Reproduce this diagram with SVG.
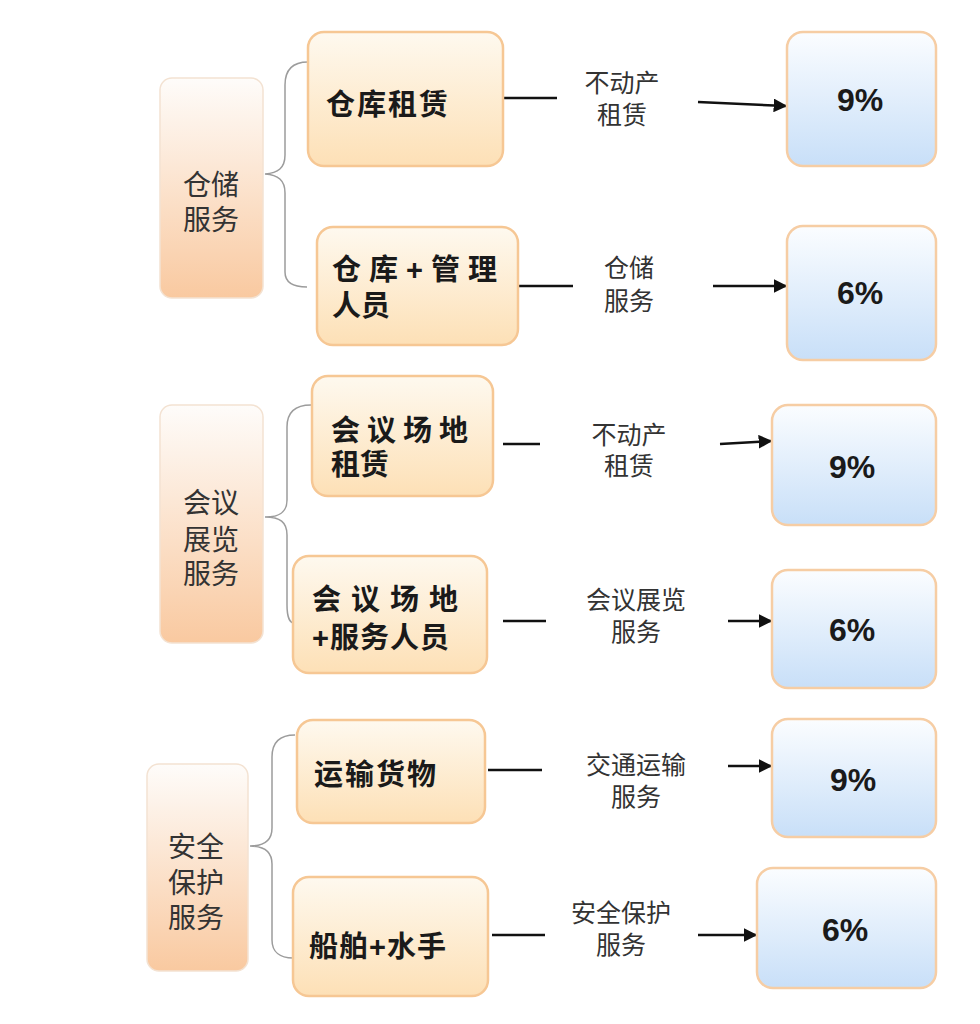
<svg xmlns="http://www.w3.org/2000/svg" width="980" height="1024" viewBox="0 0 980 1024">
<defs>
<linearGradient id="gLeft" x1="0" y1="0" x2="0" y2="1">
<stop offset="0" stop-color="#fefcfa"/><stop offset="1" stop-color="#f9c9a0"/>
</linearGradient>
<linearGradient id="gMid" x1="0" y1="0" x2="0" y2="1">
<stop offset="0" stop-color="#fef9ef"/><stop offset="1" stop-color="#fde0b6"/>
</linearGradient>
<linearGradient id="gRight" x1="0" y1="0" x2="0" y2="1">
<stop offset="0" stop-color="#fbfdff"/><stop offset="1" stop-color="#c8dff8"/>
</linearGradient>
<marker id="arr" viewBox="0 0 10 10" refX="9" refY="5" markerWidth="5.5" markerHeight="5.5" markerUnits="strokeWidth" orient="auto">
<path d="M0,0 L10,5 L0,10 Z" fill="#111"/>
</marker>
</defs>
<style>
.left{fill:url(#gLeft);stroke:#f3e2d2;stroke-width:1.5}
.mid{fill:url(#gMid);stroke:#f6c794;stroke-width:2.5}
.right{fill:url(#gRight);stroke:#f6cda4;stroke-width:2.5}
.lt{font-family:"Liberation Sans","Noto Sans CJK SC",sans-serif;font-size:28px;fill:#333;text-anchor:middle;dominant-baseline:central}
.mt{font-family:"Liberation Sans","Noto Sans CJK SC",sans-serif;font-size:29px;font-weight:bold;fill:#1a1a1a;dominant-baseline:central}
.rt{font-family:"Liberation Sans",Arial,sans-serif;font-size:32px;font-weight:bold;fill:#1a1a1a;text-anchor:middle;dominant-baseline:central}
.lab{font-family:"Liberation Sans","Noto Sans CJK SC",sans-serif;font-size:25px;fill:#333;text-anchor:middle;dominant-baseline:central}
.brace{fill:none;stroke:#9c9c9c;stroke-width:1.5}
.ln{fill:none;stroke:#111;stroke-width:2.5}
.ar{fill:none;stroke:#111;stroke-width:2.5;marker-end:url(#arr)}
</style>
<rect width="980" height="1024" fill="#ffffff"/>

<g id="connectors">
<path class="brace" d="M308,62 C292,62 285,70 285,85 L285,155 C285,168 278,173 265,174 C278,175 285,180 285,193 L285,272 C285,282 292,287 307,287"/>
<path class="brace" d="M311,405 C295,405 287,412 287,427 L287,500 C287,512 280,517 265,517 C280,517 287,522 287,535 L287,605 C287,617 290,623 294,623"/>
<path class="brace" d="M295,735 C280,735 272,742 272,757 L272,828 C272,840 265,846 250,846 C265,846 272,852 272,864 L272,940 C272,952 280,958 293,958"/>

<line class="ln" x1="503" y1="98" x2="557" y2="98"/>
<line class="ar" x1="698" y1="102" x2="786" y2="106"/>
<line class="ln" x1="518" y1="286" x2="573" y2="286"/>
<line class="ar" x1="713" y1="286" x2="786" y2="286"/>
<line class="ln" x1="503" y1="444" x2="540" y2="444"/>
<line class="ar" x1="720" y1="444" x2="771" y2="441"/>
<line class="ln" x1="503" y1="621" x2="546" y2="621"/>
<line class="ar" x1="728" y1="621" x2="771" y2="621"/>
<line class="ln" x1="488" y1="770" x2="542" y2="770"/>
<line class="ar" x1="728" y1="766" x2="771" y2="766"/>
<line class="ln" x1="492" y1="935" x2="545" y2="935"/>
<line class="ar" x1="698" y1="935" x2="756" y2="935"/>

<text class="lab" x="622" y="83">不动产</text>
<text class="lab" x="622" y="115">租赁</text>
<text class="lab" x="629" y="268">仓储</text>
<text class="lab" x="629" y="301">服务</text>
<text class="lab" x="629" y="435">不动产</text>
<text class="lab" x="629" y="466">租赁</text>
<text class="lab" x="636" y="600">会议展览</text>
<text class="lab" x="636" y="632">服务</text>
<text class="lab" x="636" y="765">交通运输</text>
<text class="lab" x="636" y="797">服务</text>
<text class="lab" x="621" y="913">安全保护</text>
<text class="lab" x="621" y="945">服务</text>
</g>

<g id="node-cangchu">
<rect class="left" x="160" y="78" width="103" height="220" rx="12"/>
<text class="lt" x="211" y="185">仓储</text>
<text class="lt" x="211" y="220">服务</text>
</g>
<g id="node-huiyi">
<rect class="left" x="160" y="405" width="103" height="238" rx="12"/>
<text class="lt" x="211" y="503">会议</text>
<text class="lt" x="211" y="540">展览</text>
<text class="lt" x="211" y="574">服务</text>
</g>
<g id="node-anquan">
<rect class="left" x="147" y="764" width="101" height="207" rx="12"/>
<text class="lt" x="196" y="847">安全</text>
<text class="lt" x="196" y="883">保护</text>
<text class="lt" x="196" y="918">服务</text>
</g>

<g id="node-ck-zl">
<rect class="mid" x="308" y="32" width="195" height="134" rx="16"/>
<text class="mt" x="326" y="105" letter-spacing="2">仓库租赁</text>
</g>
<g id="node-ck-gl">
<rect class="mid" x="317" y="227" width="201" height="118" rx="16"/>
<text class="mt" x="332" y="270" letter-spacing="8">仓库+管理</text>
<text class="mt" x="332" y="306">人员</text>
</g>
<g id="node-hy-zl">
<rect class="mid" x="312" y="376" width="181" height="120" rx="16"/>
<text class="mt" x="331" y="431" letter-spacing="7">会议场地</text>
<text class="mt" x="331" y="465">租赁</text>
</g>
<g id="node-hy-fw">
<rect class="mid" x="293" y="556" width="194" height="117" rx="16"/>
<text class="mt" x="312" y="600" letter-spacing="10">会议场地</text>
<text class="mt" x="312" y="638" letter-spacing="1">+服务人员</text>
</g>
<g id="node-ys">
<rect class="mid" x="297" y="720" width="188" height="103" rx="16"/>
<text class="mt" x="314" y="775" letter-spacing="2">运输货物</text>
</g>
<g id="node-cb">
<rect class="mid" x="293" y="877" width="195" height="119" rx="16"/>
<text class="mt" x="309" y="947" letter-spacing="1">船舶+水手</text>
</g>

<g id="node-r1">
<rect class="right" x="787" y="32" width="149" height="134" rx="16"/>
<text class="rt" x="860" y="100">9%</text>
</g>
<g id="node-r2">
<rect class="right" x="787" y="226" width="149" height="134" rx="16"/>
<text class="rt" x="860" y="293">6%</text>
</g>
<g id="node-r3">
<rect class="right" x="772" y="405" width="164" height="120" rx="16"/>
<text class="rt" x="852" y="467">9%</text>
</g>
<g id="node-r4">
<rect class="right" x="772" y="570" width="164" height="118" rx="16"/>
<text class="rt" x="852" y="630">6%</text>
</g>
<g id="node-r5">
<rect class="right" x="772" y="719" width="164" height="118" rx="16"/>
<text class="rt" x="853" y="780">9%</text>
</g>
<g id="node-r6">
<rect class="right" x="757" y="868" width="179" height="120" rx="16"/>
<text class="rt" x="845" y="930">6%</text>
</g>
</svg>
